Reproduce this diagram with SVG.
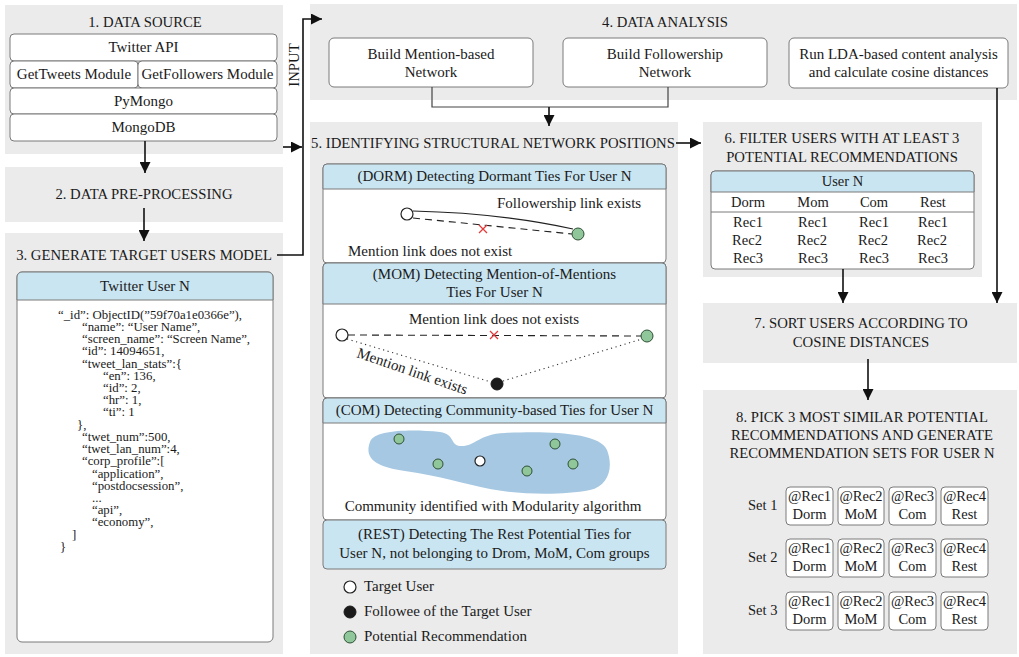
<svg xmlns="http://www.w3.org/2000/svg" width="1019" height="657" viewBox="0 0 1019 657">
  <style>
    text { font-family: "Liberation Serif", "Times New Roman", serif; fill: #1a1a1a; }
    .title { font-size: 14.7px; text-anchor: middle; }
    .lbl { font-size: 15px; text-anchor: middle; }
    .small { font-size: 14.5px; text-anchor: middle; }
    .json { font-size: 12.8px; }
    .panel { fill: #ebebeb; }
    .box { fill: #ffffff; stroke: #7a7a7a; stroke-width: 1; }
    .hdr { fill: #c9e5f1; stroke: #7a7a7a; stroke-width: 1; }
    .conn { fill: none; stroke: #111; stroke-width: 1.6; }
    .thin { fill: none; stroke: #444; stroke-width: 1.2; }
    .tgt { fill: #ffffff; stroke: #222; stroke-width: 1.2; }
    .fol { fill: #1a1a1a; stroke: #1a1a1a; stroke-width: 1; }
    .rec { fill: #8fc79a; stroke: #2f4f35; stroke-width: 1; }
    .cross { stroke: #e23b3b; stroke-width: 1.3; }
  </style>
  <defs>
    <marker id="arrBig" viewBox="0 0 10 10" refX="10" refY="5" markerWidth="11" markerHeight="11" orient="auto" markerUnits="userSpaceOnUse">
      <path d="M0,0 L10,5 L0,10 Z" fill="#111"/>
    </marker>
  </defs>

  <!-- 1. Data source -->
  <g id="data-source">
    <rect class="panel" x="5" y="5" width="278" height="149"/>
    <text class="title" x="145" y="27">1. DATA SOURCE</text>
    <rect class="box" x="10" y="34" width="267" height="27" rx="4"/>
    <text class="lbl" x="143.500" y="52">Twitter API</text>
    <rect class="box" x="10" y="61" width="128" height="27" rx="4"/>
    <text class="lbl" x="74" y="79">GetTweets Module</text>
    <rect class="box" x="138" y="61" width="139" height="27" rx="4"/>
    <text class="lbl" x="207.500" y="79">GetFollowers Module</text>
    <rect class="box" x="10" y="88" width="267" height="26" rx="4"/>
    <text class="lbl" x="143.500" y="106">PyMongo</text>
    <rect class="box" x="10" y="114" width="267" height="27" rx="4"/>
    <text class="lbl" x="143.500" y="132">MongoDB</text>
  </g>

  <!-- 2. Pre-processing -->
  <g id="pre-processing">
    <rect class="panel" x="5" y="167" width="278" height="55"/>
    <text class="title" x="144" y="199">2. DATA PRE-PROCESSING</text>
  </g>

  <!-- 3. Target users model -->
  <g id="target-model">
    <rect class="panel" x="5" y="233" width="278" height="421"/>
    <text class="title" x="144" y="260">3. GENERATE TARGET USERS MODEL</text>
    <rect class="box" x="17" y="272" width="256" height="370" rx="5"/>
    <path class="hdr" d="M17,300 V277 a5,5 0 0 1 5,-5 H268 a5,5 0 0 1 5,5 V300 Z"/>
    <text class="lbl" x="145" y="291">Twitter User N</text>
    <!-- user document, one line per tspan -->
    <text class="json">
      <tspan x="58" y="319">“_id”: ObjectID(”59f70a1e0366e”),</tspan>
      <tspan x="82" y="331">“name”: “User Name”,</tspan>
      <tspan x="82" y="343">“screen_name”: “Screen Name”,</tspan>
      <tspan x="82" y="355">“id”: 14094651,</tspan>
      <tspan x="82" y="368">“tweet_lan_stats”:{</tspan>
      <tspan x="103" y="380">“en”: 136,</tspan>
      <tspan x="103" y="392">“id”: 2,</tspan>
      <tspan x="103" y="404">“hr”: 1,</tspan>
      <tspan x="103" y="416">“ti”: 1</tspan>
      <tspan x="77" y="429">},</tspan>
      <tspan x="82" y="441">“twet_num”:500,</tspan>
      <tspan x="82" y="453">“twet_lan_num”:4,</tspan>
      <tspan x="82" y="465">“corp_profile”:[</tspan>
      <tspan x="92" y="478">“application”,</tspan>
      <tspan x="92" y="490">“postdocsession”,</tspan>
      <tspan x="92" y="502">...</tspan>
      <tspan x="92" y="514">“api”,</tspan>
      <tspan x="92" y="526">“economy”,</tspan>
      <tspan x="72" y="539">]</tspan>
      <tspan x="60" y="551">}</tspan>
    </text>
  </g>

  <!-- 4. Data analysis -->
  <g id="data-analysis">
    <rect class="panel" x="310" y="4" width="707" height="96"/>
    <text class="title" x="665" y="27">4. DATA ANALYSIS</text>
    <rect class="box" x="329" y="38" width="204" height="49" rx="5"/>
    <text class="lbl" x="431" y="59">Build Mention-based</text>
    <text class="lbl" x="431" y="77">Network</text>
    <rect class="box" x="563" y="38" width="204" height="49" rx="5"/>
    <text class="lbl" x="665" y="59">Build Followership</text>
    <text class="lbl" x="665" y="77">Network</text>
    <rect class="box" x="789" y="38" width="219" height="50" rx="5"/>
    <text class="lbl" x="898.500" y="59">Run LDA-based content analysis</text>
    <text class="lbl" x="898.500" y="77">and calculate cosine distances</text>
  </g>

  <!-- 5. Structural network positions -->
  <g id="structural-positions">
    <rect class="panel" x="310" y="122" width="368" height="532"/>
    <text class="title" x="493" y="148">5. IDENTIFYING STRUCTURAL NETWORK POSITIONS</text>

    <!-- DORM -->
    <rect class="box" x="323" y="164" width="343" height="99" rx="4"/>
    <path class="hdr" d="M323,189 V168 a4,4 0 0 1 4,-4 H662 a4,4 0 0 1 4,4 V189 Z"/>
    <text class="lbl" x="494.500" y="181">(DORM) Detecting Dormant Ties For User N</text>
    <path d="M413,211 Q500,213 573,229" fill="none" stroke="#222" stroke-width="1.1"/>
    <line x1="413" y1="218" x2="572" y2="234" stroke="#222" stroke-width="1.1" stroke-dasharray="7,5"/>
    <path class="cross" d="M479,225 L487,233 M487,225 L479,233"/>
    <circle class="tgt" cx="407" cy="214" r="6"/>
    <circle class="rec" cx="578" cy="234" r="6"/>
    <text class="lbl" x="497" y="208" style="text-anchor:start">Followership link exists</text>
    <text class="lbl" x="348" y="256" style="text-anchor:start">Mention link does not exist</text>

    <!-- MOM -->
    <rect class="box" x="323" y="263" width="343" height="135" rx="4"/>
    <path class="hdr" d="M323,304 V267 a4,4 0 0 1 4,-4 H662 a4,4 0 0 1 4,4 V304 Z"/>
    <text class="lbl" x="494.500" y="279">(MOM) Detecting Mention-of-Mentions</text>
    <text class="lbl" x="494.500" y="297">Ties For User N</text>
    <text class="lbl" x="494" y="324">Mention link does not exists</text>
    <line x1="348" y1="335" x2="641" y2="336" stroke="#222" stroke-width="1.1" stroke-dasharray="7,5"/>
    <path class="cross" d="M490,331 L498,339 M498,331 L490,339"/>
    <line x1="347" y1="339" x2="491" y2="382" stroke="#333" stroke-width="1.1" stroke-dasharray="1.2,3.5"/>
    <line x1="503" y1="381" x2="642" y2="339" stroke="#333" stroke-width="1.1" stroke-dasharray="1.2,3.5"/>
    <circle class="tgt" cx="342" cy="335" r="6"/>
    <circle class="rec" cx="647" cy="336" r="6"/>
    <circle class="fol" cx="497" cy="384" r="6"/>
    <text class="lbl" x="356" y="357" style="text-anchor:start" transform="rotate(19 356 357)">Mention link exists</text>

    <!-- COM -->
    <rect class="box" x="323" y="398" width="343" height="122" rx="4"/>
    <path class="hdr" d="M323,423 V402 a4,4 0 0 1 4,-4 H662 a4,4 0 0 1 4,4 V423 Z"/>
    <text class="lbl" x="494.500" y="415">(COM) Detecting Community-based Ties for User N</text>
    <path d="M370,442 C374,430 410,429 440,432 C455,434 450,445 460,446 C475,447 478,434 505,433 C545,431 600,432 607,450 C614,468 608,486 590,490 C560,496 515,494 490,489 C465,484 440,476 405,471 C375,467 364,458 370,442 Z" fill="#a6c8e2"/>
    <circle class="rec" cx="399" cy="439" r="5"/>
    <circle class="rec" cx="438" cy="464" r="5"/>
    <circle class="tgt" cx="480" cy="461" r="5"/>
    <circle class="rec" cx="527" cy="471" r="5"/>
    <circle class="rec" cx="555" cy="444" r="5"/>
    <circle class="rec" cx="573" cy="464" r="5"/>
    <text class="lbl" x="493" y="511">Community identified with Modularity algorithm</text>

    <!-- REST -->
    <rect class="hdr" x="323" y="520" width="343" height="49" rx="4"/>
    <text class="lbl" x="494.500" y="539">(REST) Detecting The Rest Potential Ties for</text>
    <text class="lbl" x="494.500" y="558">User N, not belonging to Drom, MoM, Com groups</text>

    <!-- legend -->
    <circle class="tgt" cx="350" cy="587" r="6"/>
    <text class="lbl" x="364" y="591" style="text-anchor:start">Target User</text>
    <circle class="fol" cx="350" cy="612" r="6"/>
    <text class="lbl" x="364" y="616" style="text-anchor:start">Followee of the Target User</text>
    <circle class="rec" cx="350" cy="637" r="6"/>
    <text class="lbl" x="364" y="641" style="text-anchor:start">Potential Recommendation</text>
  </g>

  <!-- 6. Filter users -->
  <g id="filter-users">
    <rect class="panel" x="703" y="122" width="279" height="155"/>
    <text class="title" x="842" y="143">6. FILTER USERS WITH AT LEAST 3</text>
    <text class="title" x="842" y="162">POTENTIAL RECOMMENDATIONS</text>
    <rect class="box" x="711" y="171" width="263" height="98" rx="4"/>
    <path class="hdr" d="M711,192 V175 a4,4 0 0 1 4,-4 H970 a4,4 0 0 1 4,4 V192 Z"/>
    <text class="small" x="842.500" y="186">User N</text>
    <line x1="711" y1="212" x2="974" y2="212" stroke="#7a7a7a" stroke-width="1"/>
    <g class="small">
      <text x="748" y="207">Dorm</text>
      <text x="813" y="207">Mom</text>
      <text x="874" y="207">Com</text>
      <text x="933" y="207">Rest</text>
      <text x="748" y="227">Rec1</text>
      <text x="813" y="227">Rec1</text>
      <text x="874" y="227">Rec1</text>
      <text x="933" y="227">Rec1</text>
      <text x="747" y="245">Rec2</text>
      <text x="812" y="245">Rec2</text>
      <text x="873" y="245">Rec2</text>
      <text x="932" y="245">Rec2</text>
      <text x="748" y="263">Rec3</text>
      <text x="813" y="263">Rec3</text>
      <text x="874" y="263">Rec3</text>
      <text x="933" y="263">Rec3</text>
    </g>
  </g>

  <!-- 7. Sort users -->
  <g id="sort-users">
    <rect class="panel" x="703" y="303" width="314" height="60"/>
    <text class="title" x="861" y="328">7. SORT USERS ACCORDING TO</text>
    <text class="title" x="861" y="347">COSINE DISTANCES</text>
  </g>

  <!-- 8. Recommendation sets -->
  <g id="recommendation-sets">
    <rect class="panel" x="703" y="390" width="314" height="264"/>
    <text class="title" x="862" y="422">8. PICK 3 MOST SIMILAR POTENTIAL</text>
    <text class="title" x="862" y="440">RECOMMENDATIONS AND GENERATE</text>
    <text class="title" x="862" y="458">RECOMMENDATION SETS FOR USER N</text>
    <g id="set-1">
      <text class="small" x="748" y="510" style="text-anchor:start">Set 1</text>
      <rect class="box" x="786" y="487" width="47" height="38" rx="4"/>
      <rect class="box" x="838" y="487" width="46" height="38" rx="4"/>
      <rect class="box" x="889" y="487" width="47" height="38" rx="4"/>
      <rect class="box" x="941" y="487" width="47" height="38" rx="4"/>
      <g class="small">
        <text x="809.500" y="501">@Rec1</text><text x="809.500" y="519">Dorm</text>
        <text x="861" y="501">@Rec2</text><text x="861" y="519">MoM</text>
        <text x="912.500" y="501">@Rec3</text><text x="912.500" y="519">Com</text>
        <text x="964.500" y="501">@Rec4</text><text x="964.500" y="519">Rest</text>
      </g>
    </g>
    <g id="set-2">
      <text class="small" x="748" y="562" style="text-anchor:start">Set 2</text>
      <rect class="box" x="786" y="539" width="47" height="38" rx="4"/>
      <rect class="box" x="838" y="539" width="46" height="38" rx="4"/>
      <rect class="box" x="889" y="539" width="47" height="38" rx="4"/>
      <rect class="box" x="941" y="539" width="47" height="38" rx="4"/>
      <g class="small">
        <text x="809.500" y="553">@Rec1</text><text x="809.500" y="571">Dorm</text>
        <text x="861" y="553">@Rec2</text><text x="861" y="571">MoM</text>
        <text x="912.500" y="553">@Rec3</text><text x="912.500" y="571">Com</text>
        <text x="964.500" y="553">@Rec4</text><text x="964.500" y="571">Rest</text>
      </g>
    </g>
    <g id="set-3">
      <text class="small" x="748" y="615" style="text-anchor:start">Set 3</text>
      <rect class="box" x="786" y="592" width="47" height="38" rx="4"/>
      <rect class="box" x="838" y="592" width="46" height="38" rx="4"/>
      <rect class="box" x="889" y="592" width="47" height="38" rx="4"/>
      <rect class="box" x="941" y="592" width="47" height="38" rx="4"/>
      <g class="small">
        <text x="809.500" y="606">@Rec1</text><text x="809.500" y="624">Dorm</text>
        <text x="861" y="606">@Rec2</text><text x="861" y="624">MoM</text>
        <text x="912.500" y="606">@Rec3</text><text x="912.500" y="624">Com</text>
        <text x="964.500" y="606">@Rec4</text><text x="964.500" y="624">Rest</text>
      </g>
    </g>
  </g>

  <!-- connectors -->
  <g id="connectors">
    <line class="conn" x1="145" y1="141" x2="145" y2="173" marker-end="url(#arrBig)"/>
    <line class="conn" x1="144" y1="208" x2="144" y2="241" marker-end="url(#arrBig)"/>
    <line class="conn" x1="283" y1="147" x2="302" y2="147" marker-end="url(#arrBig)"/>
    <polyline class="conn" points="277,255 303,255 303,19 322,19" marker-end="url(#arrBig)"/>
    <text x="294" y="65" style="font-size:14.7px;text-anchor:middle" transform="rotate(-90 294 65)" dy="5">INPUT</text>
    <polyline class="thin" points="432,87 432,107 668,107 668,87"/>
    <line class="conn" x1="549" y1="107" x2="549" y2="126" marker-end="url(#arrBig)"/>
    <line class="conn" x1="997" y1="88" x2="997" y2="303" marker-end="url(#arrBig)"/>
    <line class="conn" x1="676" y1="143" x2="701" y2="143" marker-end="url(#arrBig)"/>
    <line class="conn" x1="843" y1="269" x2="843" y2="303" marker-end="url(#arrBig)"/>
    <line class="conn" x1="868" y1="359" x2="868" y2="400" marker-end="url(#arrBig)"/>
  </g>
</svg>
